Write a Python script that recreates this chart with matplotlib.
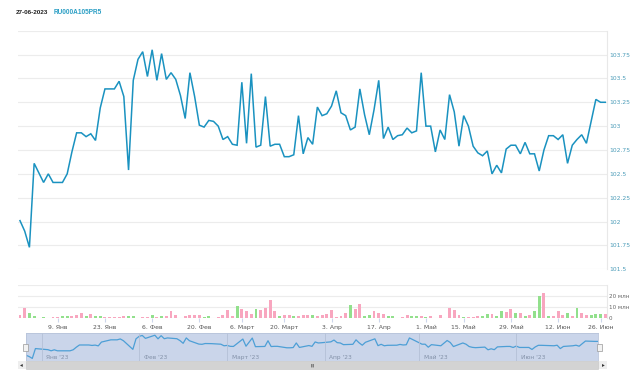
import numpy as np
import pandas as pd
import matplotlib
matplotlib.use("Agg")
import matplotlib.pyplot as plt
from matplotlib.patches import Rectangle

# trading days (MOEX calendar, holidays removed)
holidays = ["2023-01-02", "2023-02-23", "2023-03-08", "2023-05-01", "2023-05-09", "2023-06-12"]
dates = pd.bdate_range("2022-12-27", "2023-06-27")
dates = dates[~dates.isin(pd.to_datetime(holidays))]

price = [
    102.01, 101.90, 101.73, 102.61, 102.51, 102.41, 102.50, 102.41, 102.41, 102.41,
    102.50, 102.73, 102.93, 102.93, 102.89, 102.92, 102.85, 103.19, 103.39, 103.39,
    103.39, 103.47, 103.31, 102.54, 103.48, 103.70, 103.78, 103.52, 103.80, 103.48,
    103.76, 103.49, 103.56, 103.49, 103.32, 103.08, 103.56, 103.31, 103.01, 102.99,
    103.06, 103.05, 103.00, 102.86, 102.89, 102.81, 102.80, 103.46, 102.82, 103.55,
    102.78, 102.80, 103.31, 102.79, 102.81, 102.81, 102.68, 102.68, 102.70, 103.11,
    102.71, 102.88, 102.81, 103.20, 103.11, 103.13, 103.21, 103.37, 103.14, 103.11,
    102.96, 102.99, 103.39, 103.12, 102.91, 103.17, 103.48, 102.87, 102.99, 102.86,
    102.90, 102.91, 102.98, 102.93, 102.95, 103.56, 103.00, 103.00, 102.73, 102.96,
    102.86, 103.33, 103.15, 102.79, 103.11, 103.00, 102.79, 102.72, 102.69, 102.74,
    102.50, 102.59, 102.51, 102.76, 102.80, 102.80, 102.71, 102.83, 102.71, 102.71,
    102.53, 102.75, 102.90, 102.90, 102.86, 102.91, 102.61, 102.80, 102.86, 102.91,
    102.82, 103.05, 103.28, 103.25, 103.25,
]

# volume, mln
volume = [
    2.5, 9.5, 5, 2, 0.3, 0.5, 0.3, 1, 1, 1.5,
    2, 1.5, 2.5, 4.5, 1.5, 3.5, 2, 1.5, 1, 1,
    1, 1, 1.5, 1.5, 1.5, 0.3, 0.5, 1, 2.5, 1,
    2, 1.5, 6, 3, 0.3, 1.5, 2.5, 3, 3, 1,
    1.5, 0.3, 1, 2.5, 7, 1.5, 11, 8.5, 6, 4,
    8, 7, 9.5, 16, 6, 1.5, 2.5, 2.5, 1.5, 2,
    3, 3, 2.5, 2, 3, 4, 7, 1, 2, 5,
    12, 8, 12.5, 2, 2.5, 6, 5, 4, 2, 1.5,
    0.3, 0.5, 2.5, 2, 2, 2, 1, 1.5, 0.3, 3,
    0.3, 9, 7, 3, 1, 1, 0.5, 2, 1.5, 4,
    4, 2, 6, 5.5, 8, 5, 5, 2, 2.5, 6,
    20, 23, 2, 1.5, 6, 2.5, 5, 2, 9, 5,
    3, 2.5, 3.5, 4, 4,
]

# 1 = green bar, 0 = pink bar
vol_up = [
    0, 0, 1, 1, 0, 1, 0, 0, 0, 1,
    1, 0, 0, 0, 1, 0, 1, 1, 0, 0,
    0, 0, 0, 1, 1, 0, 0, 0, 1, 0,
    1, 0, 0, 0, 0, 0, 0, 0, 0, 1,
    1, 0, 0, 0, 0, 0, 1, 0, 0, 0,
    1, 0, 0, 0, 0, 1, 0, 0, 1, 0,
    0, 0, 1, 0, 0, 0, 0, 0, 0, 0,
    1, 0, 0, 1, 1, 0, 0, 0, 1, 1,
    0, 0, 0, 1, 1, 0, 1, 0, 0, 0,
    0, 0, 0, 0, 1, 0, 0, 0, 1, 1,
    0, 1, 1, 0, 0, 1, 0, 1, 0, 1,
    1, 0, 1, 0, 0, 0, 1, 0, 1, 0,
    0, 1, 1, 1, 0,
]

tick_dates = ["2023-01-09", "2023-01-23", "2023-02-06", "2023-02-20", "2023-03-06", "2023-03-20",
              "2023-04-03", "2023-04-17", "2023-05-01", "2023-05-15", "2023-05-29", "2023-06-12",
              "2023-06-26"]
tick_labels = ["9. Янв", "23. Янв", "6. Фев", "20. Фев", "6. Март", "20. Март", "3. Апр",
               "17. Апр", "1. Май", "15. Май", "29. Май", "12. Июн", "26. Июн"]
price_ticks = [101.5, 101.75, 102, 102.25, 102.5, 102.75, 103, 103.25, 103.5, 103.75]
vol_ticks = [0, 10, 20]
vol_tick_labels = ["0", "10 млн", "20 млн"]
nav_months = ["2023-01-01", "2023-02-01", "2023-03-01", "2023-04-01", "2023-05-01", "2023-06-01"]
nav_labels = ["Янв '23", "Фев '23", "Март '23", "Апр '23", "Май '23", "Июн '23"]

W, H = 640, 377
LINE = "#1a92c0"
GRID = "#ececec"
plt.rcParams["font.family"] = ["DejaVu Sans"]


def box(l, t, r, b):
    return [l / W, 1 - b / H, (r - l) / W, (b - t) / H]


fig = plt.figure(figsize=(W / 100, H / 100), dpi=100)
x = np.arange(len(price))
xlim = (-0.42, len(price) - 1 + 0.36)

# title
fig.text(16 / W, 1 - 12.7 / H, "27-06-2023", fontsize=4.6, fontweight="bold",
         family="Liberation Sans", color="#222222", va="center")
fig.text(54 / W, 1 - 12.7 / H, "RU000A105PR5", fontsize=4.7, fontweight="bold",
         family="Liberation Sans", color="#2a9ec4", va="center")

# main price pane
ax = fig.add_axes(box(18, 30.7, 607, 269.3))
ax.plot(x, price, color=LINE, lw=1.1, solid_joinstyle="miter")
ax.set_xlim(*xlim)
ax.set_ylim(101.5, 104)
ax.set_yticks(price_ticks + [104])
ax.set_yticklabels(["%g" % v for v in price_ticks] + [""])
ax.yaxis.tick_right()
ax.tick_params(axis="y", length=0, pad=1.5, labelsize=4.3, labelcolor="#4a9bb8")
ax.set_xticks([])
ax.grid(axis="y", color=GRID, lw=0.8)
ax.set_axisbelow(True)
for s in ["top", "left", "bottom"]:
    ax.spines[s].set_visible(False)
ax.spines["right"].set_color("#e8e8e8")
ax.spines["right"].set_linewidth(0.8)

# volume pane
av = fig.add_axes(box(18, 285, 607, 318))
colors = ["#92e08c" if u else "#f8a6bf" for u in vol_up]
av.bar(x, volume, width=0.62, color=colors, linewidth=0)
av.set_xlim(*xlim)
av.set_ylim(0, 30)
av.set_yticks(vol_ticks + [30])
av.set_yticklabels(vol_tick_labels + [""])
av.yaxis.tick_right()
av.tick_params(axis="y", length=0, pad=1.5, labelsize=4.1, labelcolor="#666666")
av.grid(axis="y", color=GRID, lw=0.8)
av.set_axisbelow(True)
tick_pos = np.searchsorted(dates.values, pd.to_datetime(tick_dates).values)
av.set_xticks(tick_pos)
av.set_xticklabels(tick_labels)
av.tick_params(axis="x", length=3, color="#ccd6eb", pad=2, labelsize=4.4, labelcolor="#555555")
for s in ["top", "left", "bottom"]:
    av.spines[s].set_visible(False)
av.spines["right"].set_color("#e8e8e8")
av.spines["right"].set_linewidth(0.8)

# navigator
an = fig.add_axes(box(26, 333, 598, 361))
an.set_facecolor("#cad5ea")
an.plot(dates, price, color="#4d9fd6", lw=0.9)
an.set_xlim(dates[0], dates[-1])
an.set_ylim(101.5, 104)
an.set_xticks([])
an.set_yticks([])
for s in an.spines.values():
    s.set_color("#b8c4da")
    s.set_linewidth(0.6)
for d, lab in zip(pd.to_datetime(nav_months), nav_labels):
    an.axvline(d, color="#b4c0d6", lw=0.6)
    an.text(d + pd.Timedelta(days=1.5), 101.62, lab, fontsize=4.2, color="#8391a8", va="bottom")

# navigator handles
for hx in (25.5, 599.5):
    fig.patches.append(Rectangle(((hx - 2.5) / W, 1 - 351 / H), 5 / W, 7.5 / H,
                                 transform=fig.transFigure, facecolor="#f2f2f2",
                                 edgecolor="#999999", lw=0.5, zorder=5))

# scrollbar
fig.patches.append(Rectangle((18 / W, 1 - 369 / H), 589 / W, 8 / H, transform=fig.transFigure,
                             facecolor="#eeeeee", edgecolor="none"))
fig.patches.append(Rectangle((26 / W, 1 - 369 / H), 572 / W, 8 / H, transform=fig.transFigure,
                             facecolor="#d3d3d3", edgecolor="#c4c4c4", lw=0.4))
fig.text(21.5 / W, 1 - 365 / H, "◂", fontsize=4, color="#333333", ha="center", va="center")
fig.text(603 / W, 1 - 365 / H, "▸", fontsize=4, color="#333333", ha="center", va="center")
fig.text(312 / W, 1 - 365 / H, "≡", fontsize=4, color="#555555", ha="center", va="center",
         rotation=90)

fig.savefig("out.png", dpi=100, facecolor="white")
